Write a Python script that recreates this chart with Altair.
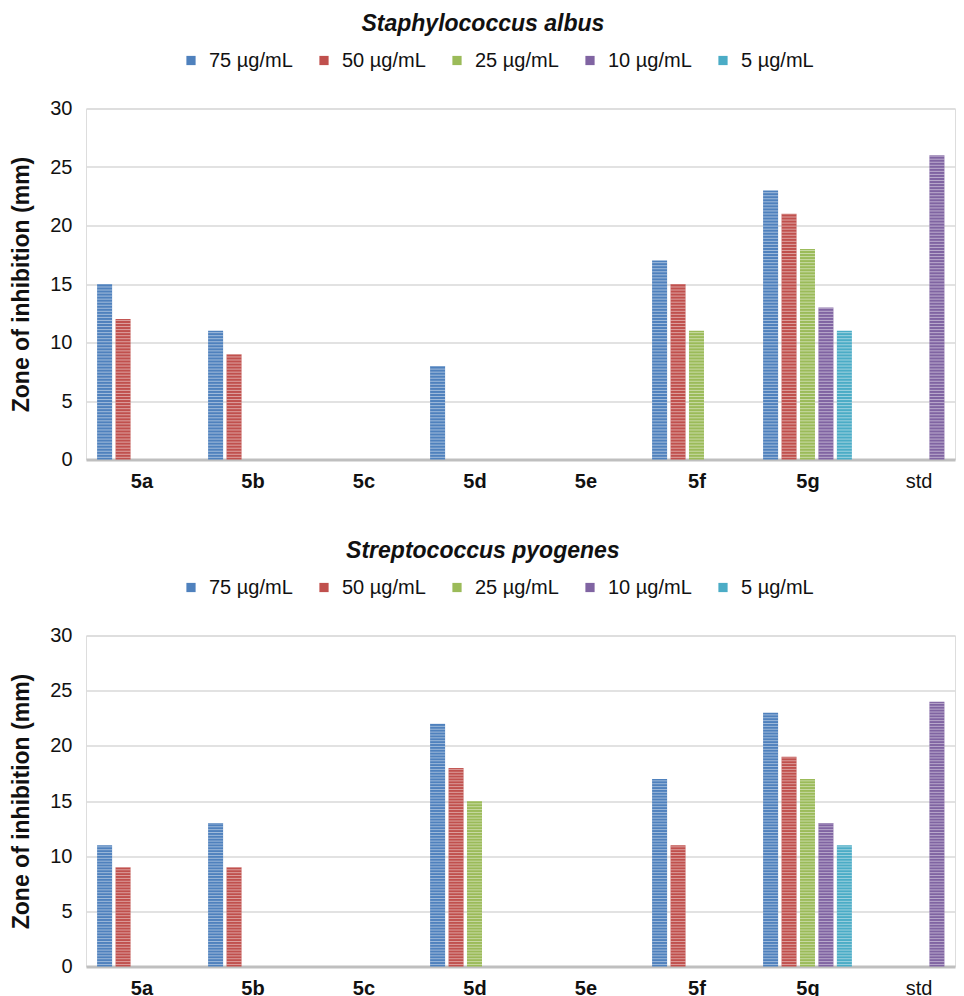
import json
import altair as alt
import pandas as pd

compounds = ["5a", "5b", "5c", "5d", "5e", "5f", "5g", "std"]
concentrations = ["75 µg/mL", "50 µg/mL", "25 µg/mL", "10 µg/mL", "5 µg/mL"]
colors = ["#4f81bd", "#c0504d", "#9bbb59", "#8064a2", "#4bacc6"]

# Staphylococcus albus
albus_75 = [15, 11, None, 8, None, 17, 23, None]
albus_50 = [12, 9, None, None, None, 15, 21, None]
albus_25 = [None, None, None, None, None, 11, 18, None]
albus_10 = [None, None, None, None, None, None, 13, 26]
albus_5 = [None, None, None, None, None, None, 11, None]

# Streptococcus pyogenes
pyo_75 = [11, 13, None, 22, None, 17, 23, None]
pyo_50 = [9, 9, None, 18, None, 11, 19, None]
pyo_25 = [None, None, None, 15, None, None, 17, None]
pyo_10 = [None, None, None, None, None, None, 13, 24]
pyo_5 = [None, None, None, None, None, None, 11, None]

y_ticks = [0, 5, 10, 15, 20, 25, 30]

FONT = "Liberation Sans"
GROUP_STEP = 0.1662  # spacing of the five concentration bars inside one compound group
BAR_W = 15


def to_df(series):
    rows = []
    for si, (conc, vals) in enumerate(zip(concentrations, series)):
        for ci, (comp, v) in enumerate(zip(compounds, vals)):
            if v is not None:
                rows.append({"compound": comp, "ci": ci, "conc": conc, "si": si, "value": v})
    return pd.DataFrame(rows)


label_expr = json.dumps(compounds) + "[datum.value]"


def panel(df, title, h):
    base = alt.Chart(df).transform_calculate(
        xpos=f"datum.ci + (datum.si - 2) * {GROUP_STEP}"
    )
    x_enc = alt.X(
        "xpos:Q",
        scale=alt.Scale(domain=[-0.5, 7.329], nice=False, zero=False, padding=0),
        axis=alt.Axis(
            title=None,
            values=list(range(len(compounds))),
            labelExpr=label_expr,
            labelAngle=0,
            labelFontSize=20,
            labelFont=FONT,
            labelColor="#111111",
            labelFontWeight={"condition": {"test": "datum.value === 7", "value": "normal"}, "value": "bold"},
            labelPadding=12,
            labelFlush=False,
            labelOverlap=False,
            ticks=False,
            domain=False,
            grid=False,
        ),
    )
    y_axis = alt.Axis(
        title="Zone of inhibition (mm)",
        titleFontSize=23,
        titleFont=FONT,
        titleFontWeight="bold",
        titleColor="#111111",
        titlePadding=16,
        values=y_ticks,
        labelFontSize=20,
        labelFont=FONT,
        labelColor="#111111",
        labelPadding=14,
        ticks=False,
        domain=False,
        gridColor={"condition": {"test": "datum.value === 0", "value": "#bfbfbf"}, "value": "#d9d9d9"},
        gridWidth={"condition": {"test": "datum.value === 0", "value": 3}, "value": 1.5},
    )
    bars = base.mark_bar(width=BAR_W).encode(
        x=x_enc,
        y=alt.Y("value:Q", scale=alt.Scale(domain=[0, 30]), axis=y_axis),
        color=alt.Color(
            "conc:N",
            sort=concentrations,
            scale=alt.Scale(domain=concentrations, range=colors),
            legend=alt.Legend(
                title=None,
                orient="none",
                direction="horizontal",
                legendX=95,
                legendY=-58,
                labelFontSize=20,
                labelFont=FONT,
                labelColor="#111111",
                symbolType="square",
                symbolSize=85,
                symbolStrokeWidth=0,
                labelOffset=8,
                columnPadding=21,
            ),
        ),
    )
    stripes = (
        base.transform_calculate(s="sequence(0.14, datum.value, 0.26)")
        .transform_flatten(["s"])
        .transform_calculate(s2="datum.s + 0.09")
        .mark_bar(width=BAR_W, color="white", opacity=0.45)
        .encode(
            x=x_enc,
            y=alt.Y("s:Q", scale=alt.Scale(domain=[0, 30]), axis=y_axis),
            y2="s2:Q",
        )
    )
    return alt.layer(bars, stripes).properties(
        width=869,
        height=h,
        title=alt.Title(
            title,
            fontSize=23,
            font=FONT,
            fontStyle="italic",
            fontWeight="bold",
            color="#111111",
            anchor="middle",
            frame="bounds",
            offset=15,
        ),
    ).resolve_scale(y="shared", x="shared")


top = panel(to_df([albus_75, albus_50, albus_25, albus_10, albus_5]), "Staphylococcus albus", 351)
bottom = panel(to_df([pyo_75, pyo_50, pyo_25, pyo_10, pyo_5]), "Streptococcus pyogenes", 331)

chart = (
    alt.vconcat(top, bottom, spacing=46)
    .resolve_legend(color="independent")
    .resolve_scale(color="independent", x="independent", y="independent")
    .configure_view(strokeWidth=0, stroke="transparent")
    .configure(padding={"left": 2, "top": 3.5, "right": 0, "bottom": 0})
)

chart.save("out.html", embed_options={"renderer": "svg", "actions": False})
